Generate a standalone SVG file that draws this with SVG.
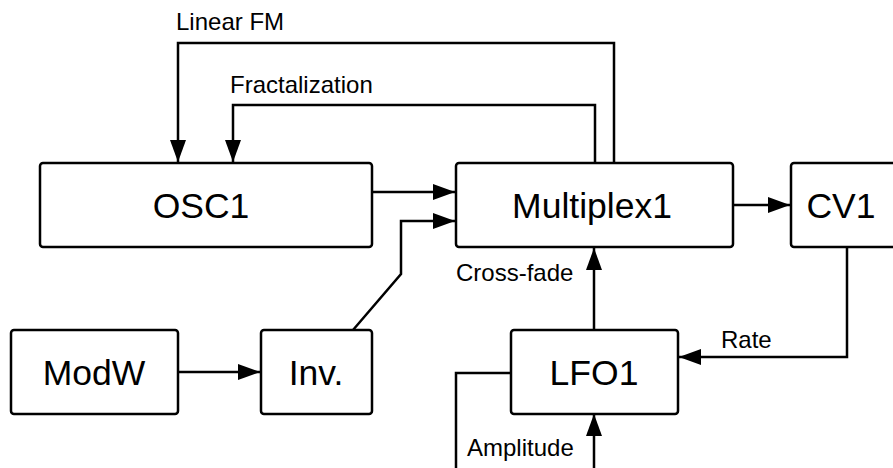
<svg xmlns="http://www.w3.org/2000/svg" width="893" height="468" viewBox="0 0 893 468">
  <defs>
    <marker id="arrow" viewBox="0 0 22 16" refX="22" refY="8" markerWidth="22" markerHeight="16" markerUnits="userSpaceOnUse" orient="auto">
      <path d="M0,0 L22,8 L0,16 Z" fill="#000"/>
    </marker>
    <style>
      .box { fill: #fff; stroke: #000; stroke-width: 2.5; }
      .name { font-family: "Liberation Sans", Arial, Helvetica, sans-serif; font-size: 35.5px; fill: #000; text-anchor: middle; }
      .label { font-family: "Liberation Sans", Arial, Helvetica, sans-serif; font-size: 24px; fill: #000; }
      .wire { fill: none; stroke: #000; stroke-width: 2.5; stroke-linejoin: miter; }
      .arr { marker-end: url(#arrow); }
    </style>
  </defs>
  <rect width="893" height="468" fill="#fff"/>

  <!-- connectors -->
  <g id="connectors">
    <!-- Linear FM feedback: Multiplex1 -> OSC1 -->
    <path class="wire arr" d="M614,163 V43 H178 V162"/>
    <!-- Fractalization feedback: Multiplex1 -> OSC1 -->
    <path class="wire arr" d="M595,163 V105 H233 V162"/>
    <!-- OSC1 -> Multiplex1 -->
    <path class="wire arr" d="M372,192 H455"/>
    <!-- Inv. -> Multiplex1 -->
    <path class="wire arr" d="M353,330 L401,274 V221 H455"/>
    <!-- Multiplex1 -> CV1 -->
    <path class="wire arr" d="M733,205 H790"/>
    <!-- ModW -> Inv. -->
    <path class="wire arr" d="M178,372 H260"/>
    <!-- Cross-fade: LFO1 -> Multiplex1 -->
    <path class="wire arr" d="M594,330 V248"/>
    <!-- Rate: CV1 -> LFO1 -->
    <path class="wire arr" d="M847,247 V357 H679"/>
    <!-- Amplitude: LFO1 self-loop -->
    <path class="wire arr" d="M511,373 H456 V469.5 H594 V414"/>

    <text class="label" x="176" y="30">Linear FM</text>
    <text class="label" x="230" y="93">Fractalization</text>
    <text class="label" x="456" y="281">Cross-fade</text>
    <text class="label" x="721" y="348">Rate</text>
    <text class="label" x="467" y="456">Amplitude</text>
  </g>

  <g id="osc1">
    <rect class="box" x="40" y="163" width="332" height="84" rx="3"/>
    <text class="name" x="201" y="218">OSC1</text>
  </g>
  <g id="multiplex1">
    <rect class="box" x="456" y="163" width="277" height="84" rx="3"/>
    <text class="name" x="592" y="218">Multiplex1</text>
  </g>
  <g id="cv1">
    <rect class="box" x="791" y="163" width="110" height="84" rx="3"/>
    <text class="name" x="841" y="218">CV1</text>
  </g>
  <g id="modw">
    <rect class="box" x="11" y="330" width="167" height="84" rx="3"/>
    <text class="name" x="94" y="385">ModW</text>
  </g>
  <g id="inv">
    <rect class="box" x="261" y="330" width="111" height="84" rx="3"/>
    <text class="name" x="316" y="385">Inv.</text>
  </g>
  <g id="lfo1">
    <rect class="box" x="511" y="330" width="167" height="84" rx="3"/>
    <text class="name" x="594" y="385">LFO1</text>
  </g>
</svg>
